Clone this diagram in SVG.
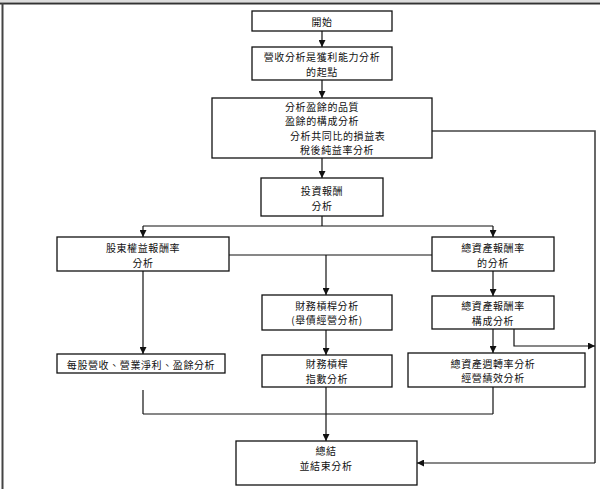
<svg xmlns="http://www.w3.org/2000/svg" width="600" height="489" viewBox="0 0 600 489">
<style>
.box{fill:#fff;stroke:#111;stroke-width:1.3}
.ln{fill:none;stroke:#111;stroke-width:1.2}
text{font-family:"Noto Sans CJK TC","Noto Sans CJK SC",sans-serif;font-size:10px;letter-spacing:0.6px;fill:#111;text-anchor:middle;dominant-baseline:central}
</style>
<defs>
<marker id="ah" viewBox="0 0 8 8" refX="8" refY="4" markerWidth="7" markerHeight="7" markerUnits="userSpaceOnUse" orient="auto">
<path d="M0,0 L8,4 L0,8 z" fill="#111"/>
</marker>
</defs>
<rect x="0" y="0" width="600" height="489" fill="#fff"/>
<rect x="0" y="0" width="600" height="2" fill="#ddd"/>
<line x1="0" y1="3.5" x2="600" y2="3.5" stroke="#333" stroke-width="2"/>
<line x1="2.5" y1="3" x2="2.5" y2="489" stroke="#444" stroke-width="2"/>

<g id="connectors">
<line class="ln" x1="322" y1="31" x2="322" y2="47" marker-end="url(#ah)"/>
<line class="ln" x1="322" y1="80" x2="322" y2="98" marker-end="url(#ah)"/>
<line class="ln" x1="322" y1="158" x2="322" y2="178" marker-end="url(#ah)"/>
<polyline class="ln" points="432,131 595,131 595,463" style="stroke:#444;stroke-width:1.6"/>
<line class="ln" x1="595" y1="463" x2="417" y2="463" marker-end="url(#ah)"/>
<line class="ln" x1="322" y1="216" x2="322" y2="226"/>
<line class="ln" x1="143" y1="226" x2="493" y2="226"/>
<line class="ln" x1="143" y1="226" x2="143" y2="237" marker-end="url(#ah)"/>
<line class="ln" x1="493" y1="226" x2="493" y2="237" marker-end="url(#ah)"/>
<line class="ln" x1="229" y1="255" x2="432" y2="255"/>
<line class="ln" x1="326" y1="255" x2="326" y2="295" marker-end="url(#ah)"/>
<line class="ln" x1="143" y1="271" x2="143" y2="354" marker-end="url(#ah)"/>
<line class="ln" x1="493" y1="271" x2="493" y2="296" marker-end="url(#ah)"/>
<line class="ln" x1="493" y1="329" x2="493" y2="353" marker-end="url(#ah)"/>
<polyline class="ln" points="514,329 514,346 595,346" marker-end="url(#ah)"/>
<line class="ln" x1="326" y1="330" x2="326" y2="355" marker-end="url(#ah)"/>
<line class="ln" x1="143" y1="390" x2="143" y2="414"/>
<line class="ln" x1="143" y1="414" x2="493" y2="414"/>
<line class="ln" x1="493" y1="387" x2="493" y2="414"/>
<line class="ln" x1="326" y1="387" x2="326" y2="441" marker-end="url(#ah)"/>
</g>

<g id="n1"><rect class="box" x="252" y="11" width="140" height="20"/><text x="322" y="21">開始</text></g>
<g id="n2"><rect class="box" x="252" y="47" width="140" height="33"/><text x="322" y="56.5">營收分析是獲利能力分析</text><text x="322" y="71">的起點</text></g>
<g id="n3"><rect class="box" x="212" y="98" width="220" height="60"/>
<text x="285" y="106" style="text-anchor:start">分析盈餘的品質</text>
<text x="285" y="120.5" style="text-anchor:start">盈餘的構成分析</text>
<text x="290" y="135" style="text-anchor:start">分析共同比的損益表</text>
<text x="300" y="149.5" style="text-anchor:start">稅後純益率分析</text></g>
<g id="n4"><rect class="box" x="261" y="178" width="122" height="38"/><text x="322" y="190">投資報酬</text><text x="322" y="205">分析</text></g>
<g id="n5"><rect class="box" x="57" y="237" width="172" height="34"/><text x="143" y="247">股東權益報酬率</text><text x="143" y="262">分析</text></g>
<g id="n6"><rect class="box" x="432" y="237" width="122" height="34"/><text x="493" y="247">總資產報酬率</text><text x="493" y="262">的分析</text></g>
<g id="n7"><rect class="box" x="262" y="295" width="130" height="35"/><text x="327" y="305">財務槓桿分析</text><text x="327" y="319.5">(舉債經營分析)</text></g>
<g id="n8"><rect class="box" x="432" y="296" width="122" height="33"/><text x="493" y="305.5">總資產報酬率</text><text x="493" y="320">構成分析</text></g>
<g id="n9"><rect class="box" x="57" y="354" width="168" height="19"/><text x="141" y="364">每股營收、營業淨利、盈餘分析</text></g>
<g id="n10"><rect class="box" x="262" y="355" width="130" height="32"/><text x="327" y="363">財務槓桿</text><text x="327" y="378">指數分析</text></g>
<g id="n11"><rect class="box" x="408" y="353" width="177" height="34"/><text x="493" y="363">總資產週轉率分析</text><text x="493" y="377.5">經營績效分析</text></g>
<g id="n12"><rect class="box" x="236" y="441" width="181" height="44"/><text x="326" y="450">總結</text><text x="326" y="465">並結束分析</text></g>
</svg>
